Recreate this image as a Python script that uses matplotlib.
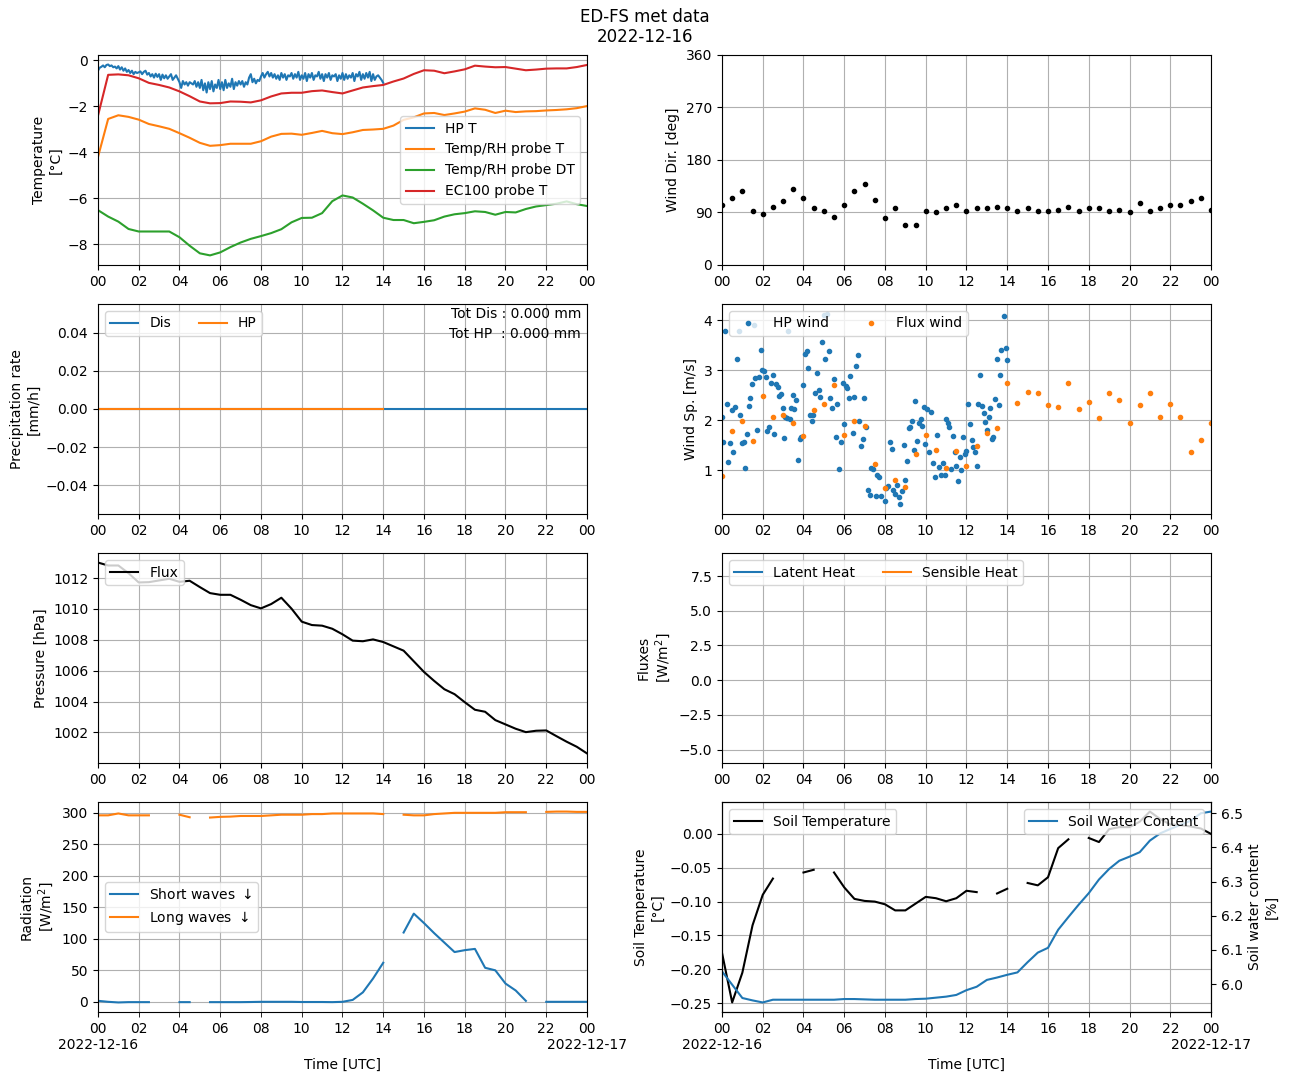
import numpy as np
import matplotlib
matplotlib.use("Agg")
import matplotlib.pyplot as plt
import matplotlib.dates as mdates

nan = np.nan
day0 = np.datetime64("2022-12-16T00:00")

# half-hourly series (00:00 .. 24:00)
temp_rh_t = [-4.21, -2.55, -2.39, -2.46, -2.58, -2.77, -2.87, -2.98, -3.17, -3.37,
             -3.59, -3.72, -3.69, -3.63, -3.63, -3.63, -3.52, -3.32, -3.20, -3.19,
             -3.24, -3.16, -3.07, -3.17, -3.21, -3.13, -3.03, -3.01, -2.98, -2.84,
             -2.59, -2.48, -2.31, -2.29, -2.38, -2.31, -2.23, -2.09, -2.15, -2.29,
             -2.19, -2.25, -2.22, -2.21, -2.18, -2.16, -2.13, -2.08, -1.99]
temp_rh_dt = [-6.52, -6.80, -7.02, -7.34, -7.45, -7.45, -7.45, -7.45, -7.70, -8.07,
              -8.40, -8.49, -8.36, -8.13, -7.93, -7.77, -7.65, -7.52, -7.35, -7.05,
              -6.86, -6.85, -6.65, -6.13, -5.88, -5.97, -6.24, -6.53, -6.85, -6.95,
              -6.95, -7.09, -7.03, -6.96, -6.80, -6.70, -6.65, -6.57, -6.60, -6.72,
              -6.60, -6.62, -6.47, -6.36, -6.30, -6.24, -6.14, -6.26, -6.34]
ec100_t = [-2.41, -0.63, -0.61, -0.65, -0.78, -0.98, -1.07, -1.18, -1.35, -1.56,
           -1.79, -1.87, -1.86, -1.79, -1.80, -1.83, -1.74, -1.57, -1.44, -1.41,
           -1.41, -1.34, -1.31, -1.38, -1.44, -1.31, -1.18, -1.12, -1.07, -0.92,
           -0.79, -0.59, -0.43, -0.45, -0.56, -0.48, -0.39, -0.23, -0.27, -0.30,
           -0.29, -0.36, -0.43, -0.40, -0.36, -0.35, -0.35, -0.29, -0.20]

# HP temperature, 5-minute values 00:00 .. 14:00
hp_t = [-0.45, -0.32, -0.28, -0.22, -0.30, -0.20, -0.18, -0.25, -0.22, -0.30, -0.27, -0.35,
        -0.25, -0.40, -0.30, -0.45, -0.35, -0.50, -0.42, -0.55, -0.45, -0.60, -0.50, -0.55,
        -0.52, -0.48, -0.60, -0.50, -0.45, -0.62, -0.55, -0.70, -0.60, -0.75, -0.58, -0.72,
        -0.60, -0.85, -0.62, -0.78, -0.65, -0.80, -0.70, -0.60, -0.85, -0.75, -0.65, -0.80,
        -0.95, -1.20, -0.90, -1.05, -0.95, -1.10, -0.95, -1.00, -1.05, -0.90, -1.15, -0.95,
        -1.20, -0.85, -1.30, -1.00, -1.40, -0.95, -1.25, -0.90, -1.35, -1.05, -1.20, -0.85,
        -1.25, -0.95, -1.30, -0.85, -1.20, -1.00, -1.15, -0.80, -1.25, -0.95, -1.10, -0.90,
        -1.05, -0.90, -1.15, -0.95, -1.05, -0.75, -0.60, -0.95, -0.80, -1.00, -0.85, -0.90,
        -0.70, -0.55, -0.75, -0.60, -0.50, -0.70, -0.55, -0.75, -0.60, -0.80, -0.65, -0.85,
        -0.55, -0.75, -0.60, -0.85, -0.65, -0.70, -0.55, -0.80, -0.60, -0.75, -0.50, -0.85,
        -0.65, -0.80, -0.55, -0.90, -0.60, -0.75, -0.55, -0.85, -0.65, -0.70, -0.50, -0.80,
        -0.60, -0.90, -0.60, -0.75, -0.55, -0.85, -0.65, -0.70, -0.60, -0.90, -0.65, -0.80,
        -0.55, -0.85, -0.60, -0.80, -0.65, -0.75, -0.55, -0.90, -0.60, -0.70, -0.50, -0.85,
        -0.60, -0.80, -0.55, -0.75, -0.50, -0.90, -0.60, -0.85, -0.70, -0.65, -0.75, -0.85,
        -0.98]

wind_dir = [103, 115, 127, 93, 88, 100, 109, 130, 114, 97, 93, 83, 103, 127, 139, 112,
            80, 98, 68, 68, 93, 90, 97, 102, 93, 98, 97, 100, 98, 93, 98, 92, 93, 95,
            100, 93, 97, 97, 92, 95, 90, 107, 93, 98, 103, 102, 110, 114, 95]

flux_wind = [0.88, 1.78, 1.98, 1.58, 2.49, 2.07, 2.10, 1.94, 1.68, 2.21, 2.33, 2.71,
             1.70, 1.98, 1.88, 1.12, 0.64, 0.80, 0.66, 1.32, 1.70, 1.40, 1.04, 1.38,
             1.08, 1.48, 1.74, 1.84, 2.75, 2.35, 2.57, 2.55, 2.31, 2.27, 2.75, 2.23,
             2.37, 2.04, 2.55, 2.41, 1.94, 2.31, 2.55, 2.07, 2.33, 2.07, 1.36, 1.60, 1.94]

hp_wind_hours = [0, 0.05, 0.17, 0.25, 0.30, 0.40, 0.50, 0.54, 0.64, 0.73, 0.83, 0.88, 0.98,
                 1.08, 1.13, 1.23, 1.28, 1.33, 1.38, 1.48, 1.57, 1.62, 1.72, 1.81, 1.91, 1.96,
                 2.06, 2.16, 2.21, 2.31, 2.41, 2.50, 2.55, 2.65, 2.75, 2.80, 2.90, 2.99, 3.04,
                 3.09, 3.19, 3.24, 3.34, 3.39, 3.48, 3.53, 3.63, 3.73, 3.83, 3.88,
                 3.98, 4.08, 4.17, 4.22, 4.32, 4.42, 4.46, 4.56, 4.66, 4.76, 4.81, 4.91, 5.01,
                 5.06, 5.16, 5.26, 5.31, 5.41, 5.49, 5.59, 5.64, 5.74, 5.84,
                 5.94, 5.99, 6.09, 6.14, 6.24, 6.29, 6.44, 6.48, 6.58, 6.67, 6.72, 6.82, 6.92,
                 6.97, 7.07, 7.17, 7.27, 7.32, 7.42, 7.56, 7.61, 7.71, 7.80,
                 8.00, 8.05, 8.15, 8.25, 8.35, 8.40, 8.49, 8.59, 8.69, 8.74, 8.84, 8.93, 8.98,
                 9.08, 9.18, 9.23, 9.33, 9.42, 9.47, 9.57, 9.67, 9.77, 9.82,
                 9.92, 9.97, 10.07, 10.16, 10.26, 10.36, 10.45, 10.55, 10.65, 10.75, 10.85,
                 10.95, 11.00, 11.10, 11.15, 11.25, 11.34, 11.44, 11.49, 11.58, 11.68, 11.73, 11.83,
                 11.93, 11.98, 12.08, 12.18, 12.28, 12.33, 12.42, 12.51, 12.56, 12.66, 12.76,
                 12.86, 12.91, 13.01, 13.11, 13.16, 13.26, 13.31, 13.41, 13.50, 13.60, 13.65,
                 13.70, 13.84, 13.94, 13.99]
hp_wind = [2.07, 1.56, 3.79, 2.33, 1.16, 1.54, 2.21, 1.36, 2.27, 3.23, 3.79, 2.10, 1.54,
           1.56, 1.04, 1.72, 3.95, 2.29, 2.45, 2.73, 3.91, 2.85, 1.80, 2.87, 3.41, 3.01,
           2.99, 2.87, 1.78, 1.86, 2.75, 2.91, 1.72, 2.73, 2.67, 2.49, 2.53, 2.25, 1.64,
           2.06, 2.04, 3.79, 2.02, 2.25, 2.51, 2.23, 2.41, 1.20, 1.62, 1.66,
           2.71, 3.33, 3.39, 3.05, 2.11, 1.98, 2.10, 2.55, 2.95, 2.61, 2.47, 3.57, 4.10,
           3.23, 4.13, 3.39, 2.45, 2.25, 2.83, 1.66, 2.33, 1.02, 1.56,
           2.75, 1.92, 2.69, 2.65, 2.45, 2.89, 1.74, 2.47, 3.09, 3.31, 1.98, 1.48, 1.62,
           2.45, 1.86, 0.60, 0.50, 1.04, 1.02, 0.48, 0.90, 0.86, 0.48,
           0.38, 0.64, 0.68, 1.56, 1.42, 0.60, 0.52, 0.70, 0.46, 0.32, 0.58, 1.50, 0.80,
           1.18, 1.84, 1.86, 1.98, 1.40, 2.39, 1.58, 1.94, 2.02, 1.88,
           2.27, 1.52, 2.23, 1.36, 2.17, 1.14, 0.86, 1.70, 1.06, 0.90, 1.14,
           0.90, 2.02, 1.94, 1.86, 1.02, 1.68, 1.36, 1.08, 0.78, 1.26, 1.00, 1.66,
           1.32, 1.38, 2.33, 1.92, 1.60, 1.46, 1.36, 1.08, 2.33, 2.91, 2.29,
           2.15, 1.96, 1.80, 2.07, 2.25, 1.62, 1.66, 2.43, 3.23, 2.31, 2.91,
           3.41, 4.09, 3.45, 3.21]

precip_dis = [0.0] * 49   # 00 .. 24
precip_hp = [0.0] * 29    # 00 .. 14

pressure = [1013.01, 1012.82, 1012.82, 1012.32, 1011.72, 1011.74, 1011.85, 1011.96,
            1011.76, 1011.83, 1011.42, 1011.03, 1010.92, 1010.92, 1010.60, 1010.25,
            1010.04, 1010.32, 1010.73, 1010.02, 1009.18, 1008.96, 1008.92, 1008.72,
            1008.36, 1007.95, 1007.91, 1008.03, 1007.86, 1007.58, 1007.30, 1006.61,
            1005.92, 1005.34, 1004.80, 1004.48, 1003.96, 1003.47, 1003.34, 1002.80,
            1002.52, 1002.24, 1002.02, 1002.11, 1002.13, 1001.76, 1001.40, 1001.07, 1000.64]

latent_heat = [nan] * 49
sensible_heat = [nan] * 49

short_wave = [1.6, 0, -1, -0.5, -0.5, -0.5, nan, nan, -0.5, -0.5, nan, -0.5, -0.5,
              -0.5, -0.5, -0.3, 0, 0, 0, 0, -0.3, -0.3, -0.3, -0.5, 0, 3, 15, 37, 62,
              nan, 110, 140, 125, 109, 94, 79, 82, 84, 54, 50, 29, 18, 1.5,
              nan, 0, 0, 0, 0, 0]
long_wave = [296, 296, 299, 296, 296, 296, nan, nan, 297, 293, nan, 292.5, 293.6,
             294, 295, 295, 295, 296, 297, 297, 297, 298, 298, 299, 299, 299, 299, 299, 298,
             nan, 297, 296, 296, 298, 299, 300, 300, 300, 300, 300, 301, 301, 301,
             nan, 301.5, 302, 302, 301.5, 301.5]

soil_temp = [-0.1755, -0.249, -0.205, -0.135, -0.090, -0.066, nan, nan, -0.057, -0.053,
             nan, -0.057, -0.079, -0.096, -0.099, -0.100, -0.104, -0.113, -0.113, -0.103,
             -0.093, -0.095, -0.0995, -0.095, -0.084, -0.086, nan, -0.088, -0.081, nan,
             -0.0725, -0.076, -0.064, -0.021, -0.008, nan, -0.006, -0.012, 0.007, 0.010,
             0.010, 0.018, 0.033, 0.022, 0.014, 0.013, 0.011, 0.008, 0.0]
soil_water = [6.037, 5.998, 5.959, 5.952, 5.946, 5.954, 5.954, 5.954, 5.954, 5.954,
              5.954, 5.954, 5.956, 5.956, 5.955, 5.954, 5.954, 5.954, 5.954, 5.956,
              5.957, 5.960, 5.963, 5.968, 5.982, 5.992, 6.012, 6.019, 6.027, 6.034,
              6.064, 6.092, 6.106, 6.159, 6.196, 6.232, 6.266, 6.306, 6.337, 6.361,
              6.373, 6.386, 6.420, 6.441, 6.454, 6.466, 6.478, 6.500, 6.505]


def minutes(n, step):
    return day0 + (np.arange(n) * step).astype("timedelta64[m]")


t30 = minutes(49, 30)
t_hp = minutes(len(hp_t), 5)
t_hpw = day0 + (np.array(hp_wind_hours) * 60).astype("timedelta64[m]")
t_php = minutes(len(precip_hp), 30)

fig, axs = plt.subplots(4, 2, figsize=(12.89, 10.82))
fig.subplots_adjust(left=0.076, right=0.9395, top=0.9492, bottom=0.0647,
                    hspace=0.186, wspace=0.276)
fig.suptitle("ED-FS met data\n2022-12-16", y=0.993)

# temperature
ax = axs[0, 0]
ax.plot(t_hp, hp_t, label="HP T")
ax.plot(t30, temp_rh_t, label="Temp/RH probe T")
ax.plot(t30, temp_rh_dt, label="Temp/RH probe DT")
ax.plot(t30, ec100_t, label="EC100 probe T")
ax.set_ylabel("Temperature\n[°C]")
ax.legend(loc="center right")

# wind direction
ax = axs[0, 1]
ax.plot(t30, wind_dir, "k.")
ax.set_ylim(0, 360)
ax.set_yticks([0, 90, 180, 270, 360])
ax.set_ylabel("Wind Dir. [deg]")

# precipitation
ax = axs[1, 0]
ax.plot(t30, precip_dis, label="Dis")
ax.plot(t_php, precip_hp, label="HP")
ax.set_ylabel("Precipitation rate\n[mm/h]")
ax.legend(loc="upper left", ncol=2)
ax.text(0.988, 0.985, "Tot Dis : %.3f mm\nTot HP  : %.3f mm" % (sum(precip_dis), sum(precip_hp)),
        transform=ax.transAxes, ha="right", va="top", linespacing=1.55)

# wind speed
ax = axs[1, 1]
ax.plot(t_hpw, hp_wind, ".", label="HP wind")
ax.plot(t30, flux_wind, ".", label="Flux wind")
ax.set_ylabel("Wind Sp. [m/s]")
ax.legend(loc="upper left", ncol=2)

# pressure
ax = axs[2, 0]
ax.plot(t30, pressure, "k-", label="Flux")
ax.set_ylabel("Pressure [hPa]")
ax.legend(loc="upper left")

# turbulent fluxes
ax = axs[2, 1]
ax.plot(t30, latent_heat, label="Latent Heat")
ax.plot(t30, sensible_heat, label="Sensible Heat")
ax.set_ylim(-5.96, 9.16)
ax.set_ylabel("Fluxes\n[W/m$^2$]")
ax.legend(loc="upper left", ncol=2)

# radiation
ax = axs[3, 0]
ax.plot(t30, short_wave, label="Short waves $\\downarrow$")
ax.plot(t30, long_wave, label="Long waves $\\downarrow$")
ax.set_ylabel("Radiation\n[W/m$^2$]")
ax.legend(loc="center left")

# soil
ax = axs[3, 1]
ax.plot(t30, soil_temp, "k-", label="Soil Temperature")
ax.set_ylabel("Soil Temperature\n[°C]")
ax.legend(loc="upper left")
ax2 = ax.twinx()
ax2.plot(t30, soil_water, "C0-", label="Soil Water Content")
ax2.set_ylabel("Soil water content\n[%]")
ax2.legend(loc="upper right")

for i, ax in enumerate(axs.flat):
    ax.set_xlim(day0, day0 + np.timedelta64(24, "h"))
    if i < 6:
        ax.xaxis.set_major_locator(mdates.HourLocator(byhour=range(0, 24, 2)))
        ax.xaxis.set_major_formatter(mdates.DateFormatter("%H"))
    else:
        ax.xaxis.set_major_locator(mdates.DayLocator())
        ax.xaxis.set_major_formatter(mdates.DateFormatter("%H\n%Y-%m-%d"))
        ax.xaxis.set_minor_locator(mdates.HourLocator(byhour=range(2, 24, 2)))
        ax.xaxis.set_minor_formatter(mdates.DateFormatter("%H"))
        ax.tick_params(axis="x", which="minor", length=3.5)
        ax.set_xlabel("Time [UTC]")
    ax.grid(True, which="both")

fig.savefig("out.png", dpi=100)
